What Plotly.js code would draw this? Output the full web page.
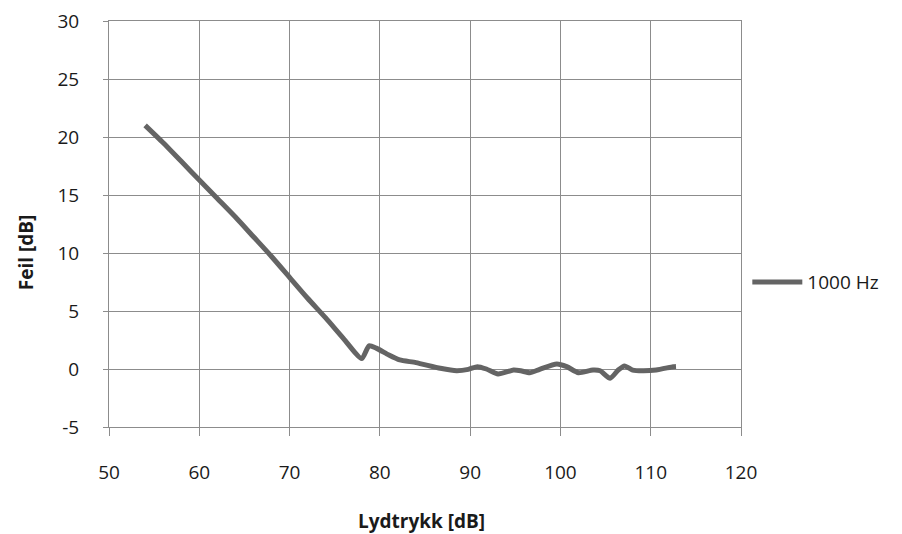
<!DOCTYPE html>
<html>
<head>
<meta charset="utf-8">
<script src="https://cdn.plot.ly/plotly-3.0.1.min.js"></script>
<style>html,body{margin:0;padding:0;background:#fff;}#chart{width:902px;height:534px;}</style>
</head>
<body>
<div id="chart"></div>
<script>
const seriesName = "1000 Hz";
const xTitle = "Lydtrykk [dB]";
const yTitle = "Feil [dB]";
const lydtrykk = [54, 56, 58, 60, 62, 64, 66, 68, 70, 72, 74, 76, 78, 78.8, 79.6, 81, 82.2, 84, 86.7, 88.5, 89.8, 90.8, 91.8, 93.1, 94.8, 95.6, 96.6, 97.7, 99.6, 100.7, 102, 103.6, 104.4, 105.5, 106.4, 107.1, 108, 109.1, 110.6, 112.5, 112.8];
const feil = [21.0, 19.5, 17.9, 16.3, 14.7, 13.1, 11.4, 9.7, 7.9, 6.1, 4.4, 2.6, 0.9, 2.0, 1.8, 1.2, 0.78, 0.55, 0.06, -0.15, -0.03, 0.2, 0.0, -0.43, -0.09, -0.15, -0.32, -0.03, 0.43, 0.2, -0.32, -0.09, -0.15, -0.8, -0.09, 0.26, -0.09, -0.15, -0.09, 0.2, 0.22];
const xTicks = [50, 60, 70, 80, 90, 100, 110, 120];
const yTicks = [-5, 0, 5, 10, 15, 20, 25, 30];

const fontFam = "'Open Sans', sans-serif";
const txtColor = '#1a1a1a';
const grid = '#8c8c8c';
const trace = {
  x: lydtrykk, y: feil, type: 'scatter', mode: 'lines', name: seriesName,
  line: {color: '#646464', width: 5, shape: 'spline', smoothing: 0.6}
};
const layout = {
  width: 902, height: 534,
  margin: {l: 109, r: 161, t: 21, b: 107},
  paper_bgcolor: '#fff', plot_bgcolor: '#fff',
  font: {family: fontFam, size: 19, color: txtColor},
  showlegend: true,
  legend: {x: 1.01, xanchor: 'left', y: 0.357, yanchor: 'middle', font: {size: 19, color: txtColor}, itemwidth: 50, bgcolor: 'rgba(0,0,0,0)'},
  xaxis: {
    range: [50, 120], tickvals: xTicks, ticktext: xTicks.map(String),
    showgrid: true, gridcolor: grid, gridwidth: 1,
    showline: true, linecolor: grid, linewidth: 1, mirror: true,
    ticks: 'outside', ticklen: 8, tickcolor: grid,
    ticklabelstandoff: 20, zeroline: false
  },
  yaxis: {
    range: [-5, 30], tickvals: yTicks, ticktext: yTicks.map(String),
    showgrid: true, gridcolor: grid, gridwidth: 1,
    showline: true, linecolor: grid, linewidth: 1, mirror: true,
    ticks: 'outside', ticklen: 5, tickcolor: grid,
    ticklabelstandoff: 20, zeroline: false
  },
  annotations: [
    {text: '<b>' + xTitle + '</b>', xref: 'paper', yref: 'paper', x: 0.494, y: -0.232, xanchor: 'center', yanchor: 'middle', showarrow: false, font: {size: 19, color: txtColor}},
    {text: '<b>' + yTitle + '</b>', xref: 'paper', yref: 'paper', x: -0.13, y: 0.43, xanchor: 'center', yanchor: 'middle', textangle: -90, showarrow: false, font: {size: 19, color: txtColor}}
  ]
};
Plotly.newPlot('chart', [trace], layout, {displayModeBar: false, staticPlot: true});
</script>
</body>
</html>
